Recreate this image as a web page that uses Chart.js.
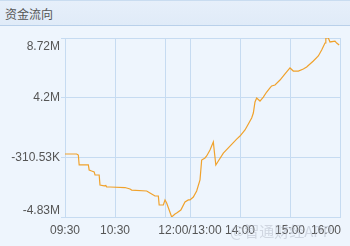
<!DOCTYPE html>
<html>
<head>
  <meta charset="UTF-8">
  <title>资金流向</title>
  <script src="https://cdn.jsdelivr.net/npm/chart.js"></script>
  <style>
    html, body { margin: 0; padding: 0; }
    body { width: 350px; height: 246px; background: #eef5fd; overflow: hidden; font-family: "Liberation Sans", Arial, sans-serif; }
    .head { height: 24px; line-height: 25px; border-top: 1px solid #c9dcf0; border-bottom: 1px solid #b9d0ea;
            background: linear-gradient(#e6effa, #e0ebf8); color: #555; font-size: 12px; padding-left: 5px;
            font-family: "Noto Sans CJK SC", sans-serif; }
    #flowChart { display: block; }
  </style>
</head>
<body>
  <div class="head">资金流向</div>
  <canvas id="flowChart" width="350" height="220"></canvas>

  <script>
    // minutes since 09:30 (lunch break removed), net flow in millions
    const minutes = [0, 14, 16, 17, 28, 29, 32, 35, 36, 41, 42, 47, 49, 50, 54, 72, 78, 80, 98, 104,
      108, 112, 113, 118, 120, 122, 128, 132, 134, 139, 144, 148, 150, 154, 158, 162, 164, 168, 170, 174,
      178, 179, 181, 184, 190, 198, 206, 210, 216, 218, 224, 226, 228, 230, 234, 238, 242, 246, 248, 252,
      258, 264, 270, 274, 280, 286, 290, 298, 304, 308, 312, 313, 316, 318, 324, 326, 329];
    const flowM = [-0.06, -0.06, -0.14, -0.89, -0.89, -1.27, -1.35, -1.42, -1.65, -1.65, -2.41, -2.48, -2.45, -2.56, -2.56, -2.6, -2.71, -2.79, -2.86, -3.09,
      -3.24, -3.24, -3.92, -3.92, -3.54, -3.77, -4.83, -4.6, -4.53, -4.3, -3.69, -3.54, -3.54, -3.32, -2.86, -2.03, -0.52, -0.36, -0.21, 0.24,
      0.85, 0.24, -0.89, -0.59, 0.01, 0.54, 1.07, 1.3, 1.76, 1.98, 2.66, 3.04, 3.88, 4.18, 3.95, 4.25, 4.63, 4.94, 5.09, 5.16,
      5.54, 6.0, 6.45, 6.22, 6.22, 6.37, 6.52, 6.98, 7.36, 7.81, 8.34, 8.72, 8.72, 8.42, 8.49, 8.34, 8.19];

    const xTicks = [0, 60, 120, 150, 210, 270, 330];
    const xTickLabels = ['09:30', '10:30', '', '12:00/13:00', '14:00', '15:00', '16:00'];
    const yTicks = [-4.83, -0.31053, 4.2, 8.72];
    const yTickLabels = ['-4.83M', '-310.53K', '4.2M', '8.72M'];

    const gridColor = '#c6dbf1';

    // draws the tick labels the way the original does (edge labels pushed inside)
    const labelPlugin = {
      id: 'labels',
      afterDraw(chart) {
        const ctx = chart.ctx;
        const xs = chart.scales.x, ys = chart.scales.y;
        ctx.save();
        ctx.font = '12px "Liberation Sans", Arial, sans-serif';
        ctx.fillStyle = '#555';
        ctx.textAlign = 'right';
        yTicks.forEach((v, i) => {
          let y = ys.getPixelForValue(v);
          if (i === 0) { ctx.textBaseline = 'bottom'; y -= 0; }
          else if (i === yTicks.length - 1) { ctx.textBaseline = 'top'; y += 3; }
          else ctx.textBaseline = 'middle';
          ctx.fillText(yTickLabels[i], xs.left - 5, y);
        });
        ctx.textBaseline = 'middle';
        xTicks.forEach((v, i) => {
          if (!xTickLabels[i]) return;
          const x = xs.getPixelForValue(v);
          ctx.textAlign = i === xTicks.length - 1 ? 'right' : 'center';
          ctx.fillText(xTickLabels[i], i === xTicks.length - 1 ? x + 1 : x, ys.bottom + 14);
        });
        // watermark
        ctx.font = '15px "Noto Sans CJK SC", sans-serif';
        ctx.textAlign = 'left';
        ctx.fillStyle = 'rgba(170,178,190,0.45)';
        ctx.fillText('@智通财经APP', 230, ys.bottom + 14);
        ctx.restore();
      }
    };

    new Chart(document.getElementById('flowChart'), {
      type: 'line',
      data: {
        datasets: [{
          data: minutes.map((m, i) => ({ x: m, y: flowM[i] })),
          borderColor: '#f0a22c',
          borderWidth: 1.2,
          pointRadius: 0,
          tension: 0,
          fill: false
        }]
      },
      options: {
        responsive: false,
        animation: false,
        events: [],
        layout: { padding: { left: 0, right: 10, top: 12, bottom: 0 } },
        plugins: { legend: { display: false }, tooltip: { enabled: false } },
        scales: {
          x: {
            type: 'linear', min: 0, max: 330,
            afterBuildTicks: s => { s.ticks = xTicks.map(v => ({ value: v })); },
            afterFit: s => { s.height = 29; },
            ticks: { display: false },
            grid: { color: gridColor, drawTicks: false },
            border: { color: gridColor }
          },
          y: {
            min: -4.83, max: 8.72,
            afterBuildTicks: s => { s.ticks = yTicks.map(v => ({ value: v })); },
            afterFit: s => { s.width = 65; },
            ticks: { display: false },
            grid: { color: gridColor, tickLength: 4 },
            border: { color: gridColor }
          }
        }
      },
      plugins: [labelPlugin]
    });
  </script>
</body>
</html>
